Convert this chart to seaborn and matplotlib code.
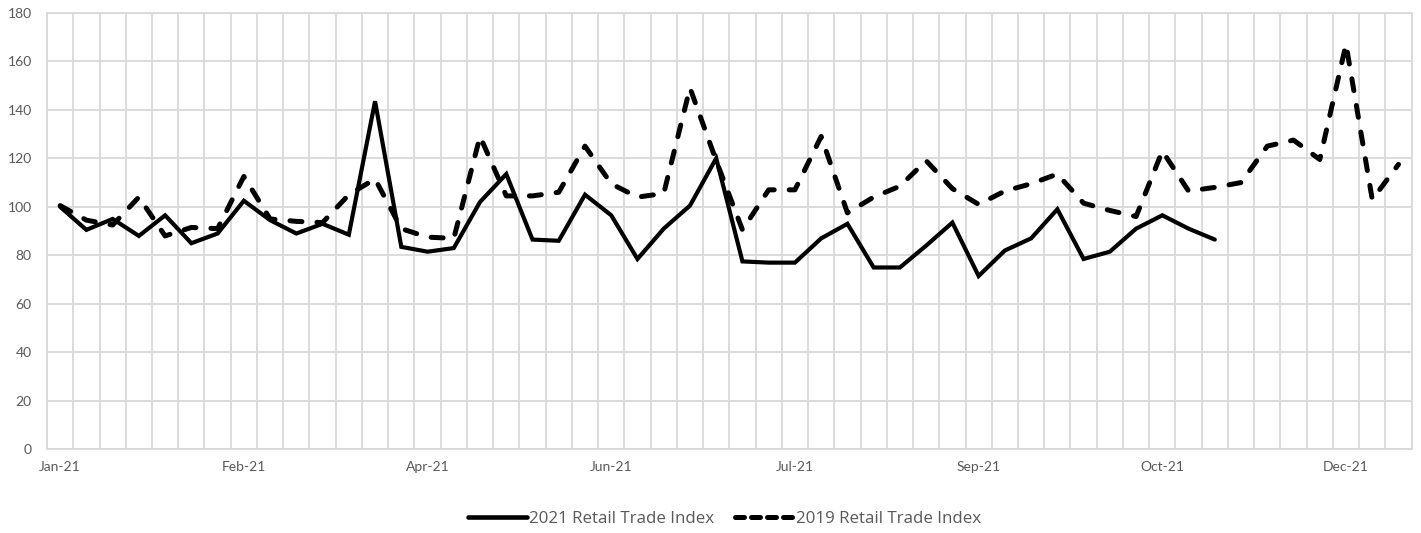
import numpy as np
import pandas as pd
import matplotlib
matplotlib.use("Agg")
import matplotlib.pyplot as plt
from matplotlib.lines import Line2D
import seaborn as sns

# Weekly observations through 2021
weeks = pd.date_range("2021-01-08", periods=52, freq="7D")

retail_2021 = [100, 90.5, 95, 88, 96.5, 85, 89, 102.5, 94.5, 89, 93, 88.5,
               143.5, 83.5, 81.5, 83, 102, 113.5, 86.5, 86, 105, 96.5, 78.5,
               91, 100.5, 120, 77.5, 77, 77, 87, 93, 75, 75, 84, 93.5, 71.5,
               82, 87, 99, 78.5, 81.5, 91, 96.5, 91, 86.5]

retail_2019 = [100.5, 94.5, 92.5, 104, 88, 91.5, 91, 112.5, 95, 94, 93.5, 105,
               111.5, 91, 87.5, 87, 129, 104.5, 104.5, 106, 125, 109.5, 104,
               105.5, 149, 119, 90.5, 107, 107, 129, 97.5, 104, 108.5, 119,
               107.5, 101, 106.5, 109.5, 113.5, 101.5, 98.5, 96, 123, 106.5,
               108, 110, 125, 127.5, 119.5, 167, 103, 117.5]

series_names = ["2021 Retail Trade Index", "2019 Retail Trade Index"]
y_ticks = list(range(0, 181, 20))
label_every = 7

rows = []
for name, vals in zip(series_names, [retail_2021, retail_2019]):
    for i, v in enumerate(vals):
        rows.append({"week": i, "series": name, "value": v})
df = pd.DataFrame(rows)

sns.set_theme(style="white")
plt.rcParams["font.family"] = ["Lato", "DejaVu Sans"]

grid_c = "#d9d9d9"
text_c = "#595959"

fig = plt.figure(figsize=(14.21, 5.33), dpi=100)
ax = fig.add_axes([0.0331, 0.1567, 0.9603, 0.8195])

sns.lineplot(data=df, x="week", y="value", hue="series", style="series",
             size="series", palette=["black", "black"],
             dashes=["", (2.4, 3.0)],
             sizes={series_names[0]: 3.0, series_names[1]: 3.6},
             hue_order=series_names, style_order=series_names,
             size_order=series_names, legend=False, ax=ax)

for ln in ax.lines:
    ln.set_dash_capstyle("round")
    ln.set_solid_joinstyle("miter")
    ln.set_dash_joinstyle("round")

n = len(weeks)
ax.set_xlim(-0.5, n - 0.5)
ax.set_ylim(0, 180)
ax.set_yticks(y_ticks)
ax.set_xticks(range(0, n, label_every))
ax.set_xticklabels([weeks[i].strftime("%b-%y") for i in range(0, n, label_every)])
ax.set_xticks(np.arange(-0.5, n, 1), minor=True)

ax.set_axisbelow(True)
ax.grid(False)
ax.grid(which="minor", axis="x", color=grid_c, lw=1.3)
ax.grid(which="major", axis="y", color=grid_c, lw=1.3)
for s in ax.spines.values():
    s.set_color(grid_c)
    s.set_linewidth(1.3)

ax.tick_params(axis="both", which="both", length=0, labelsize=10,
               labelcolor=text_c)
ax.tick_params(axis="y", pad=11)
ax.tick_params(axis="x", pad=8)
ax.set_xlabel("")
ax.set_ylabel("")

handles = [
    Line2D([], [], color="black", lw=3.3, solid_capstyle="round"),
    Line2D([], [], color="black", lw=3.6, dashes=(1.8, 1.4),
           dash_capstyle="round"),
]
fig.legend(handles, series_names, loc="center", bbox_to_anchor=(0.51, 0.027),
           ncol=2, frameon=False,
           prop={"family": ["Open Sans", "DejaVu Sans"], "size": 12.2},
           labelcolor=text_c, handlelength=3.5, handletextpad=0.12,
           columnspacing=1.2)

fig.savefig("out.png", dpi=100)
